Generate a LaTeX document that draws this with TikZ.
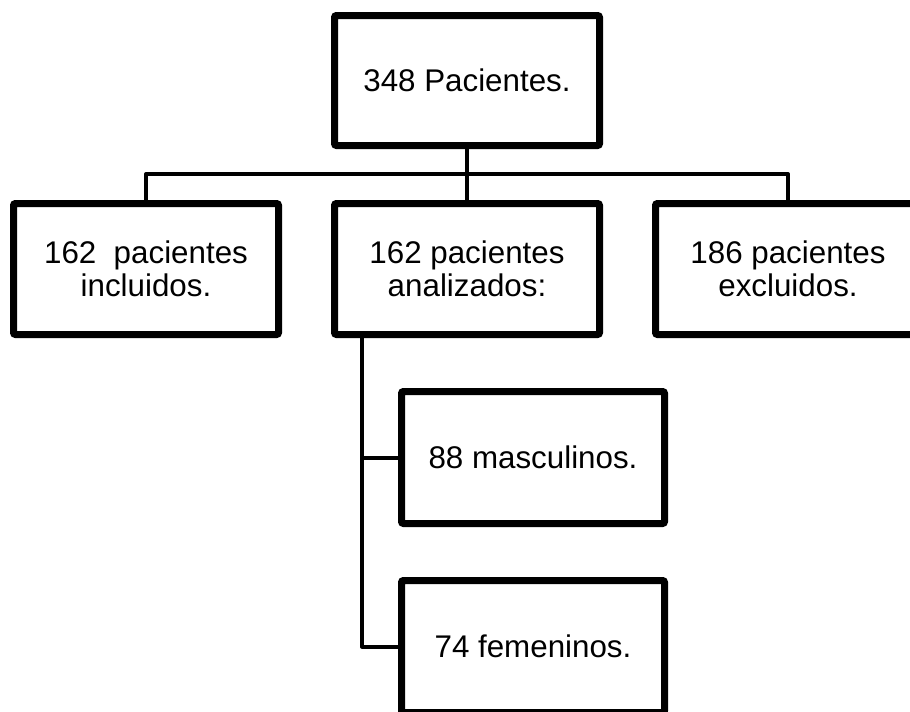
\documentclass[tikz,border=0pt]{standalone}
\usepackage{fontspec}
\setmainfont{Liberation Sans}
\usetikzlibrary{shadows}

\tikzset{
  cajon/.style={draw=black, fill=white, line width=5.25pt, rounded corners=1.5pt,
    align=center, inner sep=0pt, font=\fontsize{23.5}{24.5}\selectfont,
    drop shadow={shadow xshift=1.5pt, shadow yshift=-1.5pt, fill=black, opacity=0.18}},
  enlace/.style={line width=3pt, line join=round}
}

\begin{document}
\begin{tikzpicture}[x=0.75pt, y=-0.75pt]
  \useasboundingbox (0,0) rectangle (910,711);

  \node[cajon, minimum width=198.75pt, minimum height=97.5pt] (total) at (467,80.5) {348 Pacientes.};
  \node[cajon, minimum width=198.75pt, minimum height=98.25pt] (incl) at (146,269) {162\ \ pacientes\\incluidos.};
  \node[cajon, minimum width=198.75pt, minimum height=98.25pt] (anal) at (467,269) {162 pacientes\\analizados:};
  \node[cajon, minimum width=198.75pt, minimum height=98.25pt] (excl) at (788,269) {186 pacientes\\excluidos.};
  \node[cajon, minimum width=197.25pt, minimum height=99pt] (masc) at (533,457.5) {88 masculinos.};
  \node[cajon, minimum width=197.25pt, minimum height=99pt] (fem) at (533,646.5) {74 femeninos.};

  \coordinate (bus) at (467,174);
  \coordinate (tronco) at (362,334.5);

  \draw[enlace] (total.south) -- (anal.north);
  \draw[enlace] (incl.north) |- (bus) -| (excl.north);
  \draw[enlace] (tronco) |- (masc.west);
  \draw[enlace] (tronco) |- (fem.west);
\end{tikzpicture}
\end{document}
